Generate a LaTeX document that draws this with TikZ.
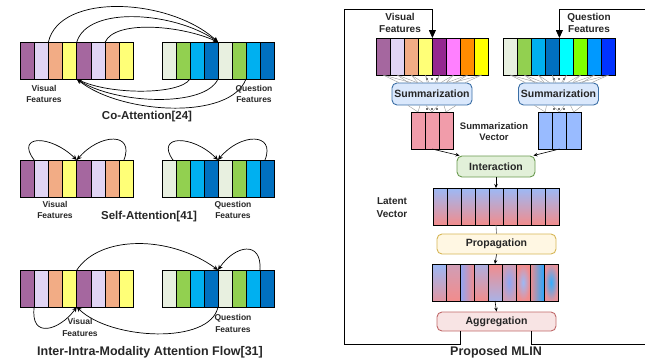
\documentclass[tikz,border=0pt]{standalone}
\usepackage{fontspec}
\setmainfont{Liberation Sans}
\usetikzlibrary{arrows.meta,calc}
\definecolor{vA}{HTML}{A5679F}
\definecolor{vB}{HTML}{E1D5F4}
\definecolor{vC}{HTML}{F2AC85}
\definecolor{vD}{HTML}{FFFF77}
\definecolor{vE}{HTML}{952790}
\definecolor{vF}{HTML}{FF80FF}
\definecolor{vG}{HTML}{FF8C00}
\definecolor{vH}{HTML}{FFFF00}
\definecolor{qA}{HTML}{E8F0E0}
\definecolor{qB}{HTML}{92D050}
\definecolor{qC}{HTML}{00B0F0}
\definecolor{qD}{HTML}{0070C0}
\definecolor{qE}{HTML}{00FFFF}
\definecolor{qF}{HTML}{80FF00}
\definecolor{qG}{HTML}{0099FF}
\definecolor{qH}{HTML}{0033FF}
\definecolor{svec}{HTML}{F19CAA}
\definecolor{qvec}{HTML}{99BBFF}
\definecolor{lblue}{HTML}{9CB9F6}
\definecolor{lpink}{HTML}{F28C8C}
\definecolor{sumfill}{HTML}{DAE8FC}
\definecolor{sumdraw}{HTML}{3A6EA5}
\definecolor{intfill}{HTML}{E2F0D9}
\definecolor{intdraw}{HTML}{6A9A50}
\definecolor{propfill}{HTML}{FFF7E3}
\definecolor{propdraw}{HTML}{D6B656}
\definecolor{aggfill}{HTML}{F8E4E4}
\definecolor{aggdraw}{HTML}{C0696A}
\newcommand\barrow[5]{%
  \foreach \c [count=\i from 0] in {#5} {%
    \node[bar, minimum width=#4pt, fill=\c] (#1\i) at ({#2+\i*#4},#3) {};}}
\begin{document}
\begin{tikzpicture}[x=1pt,y=-1pt,
  bar/.style={draw=black, line width=0.7pt, minimum height=37pt, inner sep=0pt, outer sep=0pt, anchor=north west},
  lbl/.style={font=\fontsize{8.5}{11.5}\selectfont\bfseries, align=center, inner sep=0pt, text=black!85},
  ttl/.style={font=\fontsize{11.5}{13}\selectfont\bfseries, inner sep=0pt, text=black!85},
  rlbl/.style={font=\fontsize{10}{12}\selectfont\bfseries, align=center, inner sep=0pt, text=black!85},
  arr/.style={line width=0.7pt, -{Stealth[length=5pt,width=4.5pt]}},
  sarr/.style={line width=0.6pt, -{Stealth[length=4pt,width=3.5pt]}},
  gline/.style={draw=black!40, line width=0.4pt},
  frame/.style={line width=0.8pt},
  box/.style={rounded corners=5pt, line width=0.9pt, inner sep=0pt, font=\fontsize{10.5}{12}\selectfont\bfseries, text=black!85}
]
\useasboundingbox (0,0) rectangle (645,360);

% ---------------- Co-Attention ----------------
\barrow{a}{20}{42}{14.2}{vA,vB,vC,vD,vA,vB,vC,vD}
\barrow{b}{162}{42}{14}{qA,qB,qC,qD,qA,qB,qC,qD}
\draw[arr] (a2.north west) .. controls (60,-8) and (170,-2) .. (b4.north west);
\draw[arr] (a4.north west) .. controls (88,5) and (175,12) .. (b4.north west);
\draw[arr] (a6.north west) .. controls (115,20) and (180,25) .. (b4.north west);
\draw[arr] (b2.south west) .. controls (180,95) and (110,95) .. (a4.south west);
\draw[arr] (b4.south west) .. controls (205,108) and (115,104) .. (a4.south west);
\draw[arr] (b6.south west) .. controls (230,121) and (120,114) .. (a4.south west);
\node[lbl] (l1v) at (44,94) {Visual\\Features};
\node[lbl] (l1q) at (254,94) {Question\\Features};
\node[ttl] (t1) at (147,117) {Co-Attention[24]};

% ---------------- Self-Attention ----------------
\barrow{c}{20}{160}{14.2}{vA,vB,vC,vD,vA,vB,vC,vD}
\barrow{d}{162}{160}{14}{qA,qB,qC,qD,qA,qB,qC,qD}
\draw[arr] (c1.north west) .. controls (15,135) and (50,134) .. (c4.north west);
\draw[arr] ($(c7.north west)+(4.5,0)$) .. controls (135,132) and (100,133) .. (c4.north west);
\draw[arr] ($(d0.north west)+(11,0)$) .. controls (155,135) and (192,134) .. (d4.north west);
\draw[arr] ($(d7.north west)+(5,0)$) .. controls (276,132) and (240,133) .. (d4.north west);
\node[lbl] (l2v) at (55,210) {Visual\\Features};
\node[lbl] (l2q) at (233,210) {Question\\Features};
\node[ttl] (t2) at (149,217) {Self-Attention[41]};

% ---------------- Inter-Intra ----------------
\barrow{e}{20}{270}{14.2}{vA,vB,vC,vD,vA,vB,vC,vD}
\barrow{f}{162}{270}{14}{qA,qB,qC,qD,qA,qB,qC,qD}
\draw[arr] (e4.north west) .. controls (100,235) and (170,235) .. (f4.north west);
\draw[arr] (f7.north west) .. controls (262,240) and (235,245) .. (f4.north west);
\draw[arr] (f4.south west) .. controls (210,345) and (110,340) .. (e4.south west);
\draw[arr] (e1.south west) .. controls (30,340) and (60,330) .. (e4.south west);
\node[lbl] (l3v) at (80,327.5) {Visual\\Features};
\node[lbl] (l3q) at (233,323.5) {Question\\Features};
\node[ttl, font=\fontsize{12.5}{14}\selectfont\bfseries] (t3) at (150,352) {Inter-Intra-Modality Attention Flow[31]};

% ---------------- Proposed MLIN ----------------
\barrow{rv}{376}{38}{14.1}{vA,vB,vC,vD,vE,vF,vG,vH}
\barrow{rq}{503}{38}{14.1}{qA,qB,qC,qD,qE,qF,qG,qH}
\node[rlbl] (rlv) at (400,23) {Visual\\Features};
\node[rlbl] (rlq) at (589,23) {Question\\Features};

\node[box, draw=sumdraw, fill=sumfill, minimum width=80pt, minimum height=22pt] (sv) at (432,94) {Summarization};
\node[box, draw=sumdraw, fill=sumfill, minimum width=80pt, minimum height=22pt] (sq) at (558.5,94) {Summarization};

\barrow{sa}{411}{112}{14}{svec,svec,svec}
\barrow{sb}{538}{112}{14.3}{qvec,qvec,qvec}

\foreach \p/\s in {rv/sv,rq/sq}{
  \foreach \i in {0,...,7}{
    \draw[gline] (\p\i.south) -- ($(\s.north)+({(\i-3.5)*9.5},0)$);
    \draw[gline] (\p\i.south) -- ($(\s.north)+({(\i-3.5)*6},0)$);
  }
  \foreach \k in {-1,0,1}{
    \fill[black!55] ($(\s.north)+(\k*5-1,-4.5)$) rectangle ++(2,2);
    \fill[black!55] ($(\s.south)+(\k*5-1,2.5)$) rectangle ++(2,2);
  }
}
\foreach \p/\s in {sa/sv,sb/sq}{
  \foreach \j in {0,1,2}{
    \draw[gline] ($(\s.south)+({(\j-1)*18-6},0)$) -- (\p\j.north);
    \draw[gline] ($(\s.south)+({(\j-1)*18+6},0)$) -- (\p\j.north);
  }
}
\node[rlbl, font=\fontsize{9.5}{11.5}\selectfont\bfseries] (svl) at (494,131.5) {Summarization\\Vector};

\node[box, draw=intdraw, fill=intfill, minimum width=78pt, minimum height=21pt] (inter) at (496,166.5) {Interaction};
\draw[sarr] (sa1.south) -- ($(inter.north west)+(3,0)$);
\draw[sarr] (sb1.south) -- ($(inter.north east)+(-2,0)$);

\foreach \i in {0,...,8}{
  \node[bar, minimum width=14pt, top color=lblue, bottom color=lpink, draw=black] (lat\i) at ({433+\i*14},188) {};
}
\node[rlbl, font=\fontsize{10}{13}\selectfont\bfseries] (latl) at (392,207.5) {Latent\\Vector};
\draw[sarr] (inter.south) -- (lat4.north);

\node[box, draw=propdraw, fill=propfill, minimum width=119pt, minimum height=20pt] (prop) at (496.5,244) {Propagation};
\draw[draw=black!60, line width=0.6pt] (lat4.south) -- (prop.north);

\node[bar, minimum width=14pt, top color=lblue, bottom color=lpink!80!lblue] (pb0) at (432,264) {};
\node[bar, minimum width=14pt, top color=lpink!60!lblue, bottom color=lpink] (pb1) at (446,264) {};
\node[bar, minimum width=14pt, left color=lblue!90!blue, right color=lpink] (pb2) at (460,264) {};
\node[bar, minimum width=14pt, top color=lblue!80!lpink, bottom color=lpink] (pb3) at (474,264) {};
\node[bar, minimum width=14pt, top color=lpink, bottom color=lblue!85!lpink] (pb4) at (488,264) {};
\node[bar, minimum width=14pt, inner color=lblue!90!blue, outer color=lpink!60!lblue] (pb5) at (502,264) {};
\node[bar, minimum width=14pt, inner color=lblue, outer color=lpink] (pb6) at (516,264) {};
\node[bar, minimum width=14pt, left color=lpink, right color=qG!85!white] (pb7) at (530,264) {};
\node[bar, minimum width=14pt, inner color=qG!80!white, outer color=lpink!85!lblue] (pb8) at (544,264) {};
\draw[sarr] (prop.south) -- (pb4.north);

\node[box, draw=aggdraw, fill=aggfill, minimum width=119pt, minimum height=19pt] (agg) at (496.5,321.5) {Aggregation};
\draw[sarr] (pb4.south) -- (agg.north);

\coordinate (aggLx) at (460,0);
\coordinate (aggRx) at (531,0);
\coordinate (fBL) at (344.5,344);
\coordinate (fTL) at (344.5,9.5);
\coordinate (fBR) at (645,344);
\coordinate (fTR) at (645,9.5);
\draw[frame, -{Triangle[length=8pt,width=7pt]}] (agg.south -| aggLx) |- (fBL) -- (fTL) -| (rv4.north west);
\draw[frame, -{Triangle[length=8pt,width=7pt]}] (agg.south -| aggRx) |- (fBR) (fTR) -| (rq4.north west);
\node[ttl, font=\fontsize{12.5}{14}\selectfont\bfseries] (t4) at (496,352) {Proposed MLIN};
\end{tikzpicture}
\end{document}
